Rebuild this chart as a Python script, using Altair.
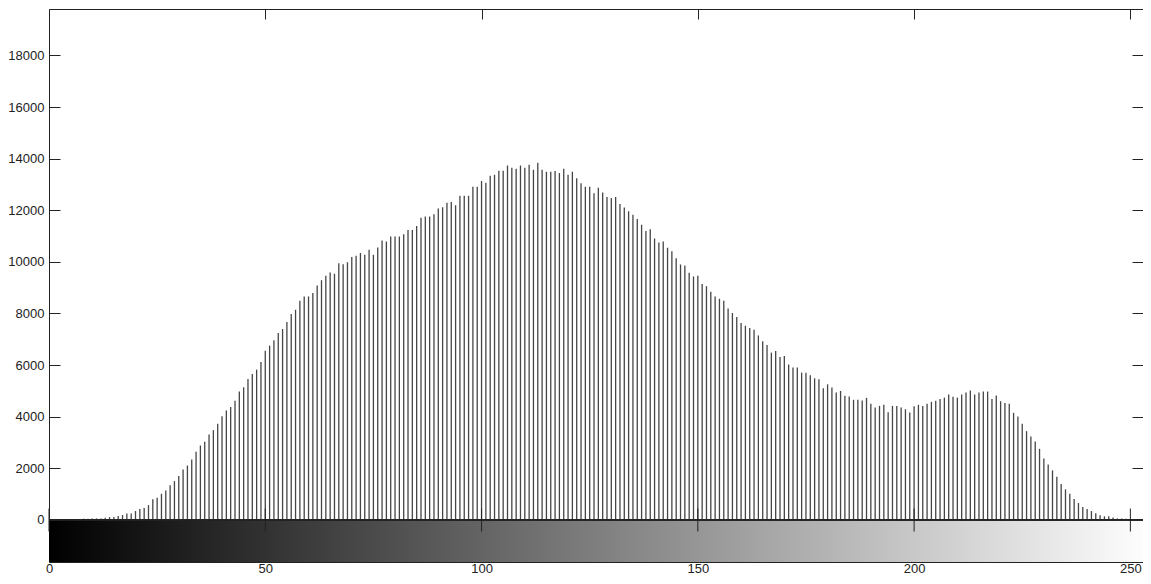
import altair as alt
import pandas as pd

# ---- data (grey-level histogram, 256 bins) ----
levels = list(range(256))
counts = [
    0, 0, 0, 0, 0, 0, 0, 40, 50, 50, 55, 60, 60, 80, 110, 110,
    150, 190, 250, 250, 345, 420, 460, 575, 800, 860, 1015, 1145, 1340, 1505, 1700, 1955,
    2110, 2345, 2640, 2885, 3030, 3310, 3480, 3725, 4020, 4240, 4380, 4615, 4975, 5140, 5465, 5660,
    5825, 6120, 6560, 6755, 6960, 7245, 7400, 7670, 7980, 8145, 8495, 8660, 8660, 8790, 9085, 9290,
    9460, 9590, 9540, 9950, 9910, 9990, 10185, 10235, 10340, 10275, 10470, 10275, 10560, 10830, 10790, 10980,
    10980, 10980, 11075, 11240, 11240, 11395, 11715, 11755, 11755, 11850, 12065, 12120, 12295, 12325, 12195, 12565,
    12565, 12565, 12915, 12915, 13135, 13070, 13340, 13380, 13535, 13535, 13740, 13650, 13610, 13740, 13650, 13765,
    13570, 13845, 13570, 13495, 13495, 13520, 13445, 13610, 13380, 13495, 13240, 13045, 12915, 12915, 12660, 12875,
    12685, 12515, 12480, 12515, 12245, 12105, 11965, 11830, 11665, 11435, 11200, 11265, 10905, 10750, 10790, 10545,
    10415, 10145, 9900, 9860, 9580, 9435, 9460, 9140, 9060, 8840, 8660, 8570, 8495, 8195, 8020, 7865,
    7630, 7525, 7440, 7375, 7150, 6920, 6780, 6485, 6550, 6315, 6355, 6020, 5905, 5905, 5710, 5700,
    5605, 5490, 5450, 5100, 5255, 5130, 4935, 5000, 4810, 4780, 4655, 4655, 4625, 4730, 4500, 4355,
    4420, 4460, 4175, 4420, 4420, 4355, 4290, 4160, 4405, 4460, 4420, 4500, 4575, 4615, 4690, 4740,
    4860, 4770, 4740, 4860, 4935, 5015, 4860, 4935, 4975, 4975, 4690, 4820, 4600, 4535, 4500, 4150,
    4010, 3725, 3440, 3235, 3040, 2755, 2385, 2150, 1920, 1675, 1390, 1185, 1015, 810, 655, 500,
    420, 345, 255, 180, 140, 140, 90, 60, 60, 45, 30, 20, 0, 0, 0, 0,
]
x_ticks = [0, 50, 100, 150, 200, 250]
y_ticks = [0, 2000, 4000, 6000, 8000, 10000, 12000, 14000, 16000, 18000]
colorbar_tick = -815

X_MIN, X_MAX = levels[0], levels[-1]
Y_MIN, Y_MAX = -1630, 19800

hist_df = pd.DataFrame({"level": levels, "count": counts})
bar_df = pd.DataFrame({"x0": [X_MIN], "x1": [X_MAX], "top": [0], "bottom": [Y_MIN]})
tick_df = pd.DataFrame({"t": x_ticks})

# the visible view is 1094 px wide; the axis itself runs 1103 px (its right end lies at the page edge)
xscale = alt.Scale(domain=[X_MIN, X_MAX], range=[0, 1103], nice=False, zero=False)
yscale = alt.Scale(domain=[Y_MIN, Y_MAX], nice=False, zero=False)

FONT = "Liberation Sans"
INK = "#222222"
AX = dict(grid=False, title=None, tickColor=INK, domainColor=INK, labelColor=INK,
          labelFont=FONT, labelFontSize=13, tickWidth=1, domainWidth=1, minExtent=0,
          labelFlush=False)

gray_ramp = alt.Gradient(
    gradient="linear",
    stops=[alt.GradientStop(color="#000000", offset=0),
           alt.GradientStop(color="#ffffff", offset=1)],
    x1=0, x2=1, y1=0, y2=0,
)

stems = alt.Chart(hist_df).mark_rule(color="#454545", strokeWidth=1.3).encode(
    x=alt.X("level:Q", scale=xscale,
            axis=alt.Axis(orient="top", offset=-10, tickSize=10, values=x_ticks,
                          labels=False, domain=False, **AX)),
    y=alt.Y("count:Q", scale=yscale,
            axis=alt.Axis(orient="left", offset=-11, tickSize=11, values=y_ticks,
                          format="d", labelPadding=5, domain=False, **AX)),
    y2=alt.datum(0),
)

cbar = alt.Chart(bar_df).mark_rect(color=gray_ramp, strokeWidth=0).encode(
    x=alt.X("x0:Q", scale=xscale,
            axis=alt.Axis(orient="bottom", offset=-11, tickSize=11, values=x_ticks,
                          format="d", labelPadding=0.5, domain=False, **AX)),
    x2="x1:Q",
    y=alt.Y("top:Q", scale=yscale,
            axis=alt.Axis(orient="right", offset=-11, tickSize=11,
                          values=y_ticks + [colorbar_tick], labels=False, domain=False, **AX)),
    y2="bottom:Q",
)

zero_line = alt.Chart(tick_df).mark_rule(color=INK, strokeWidth=1).encode(
    x=alt.X(datum=X_MIN, type="quantitative", scale=xscale,
            axis=alt.Axis(orient="top", offset=0, ticks=False, labels=False, domain=True, **AX)),
    x2=alt.datum(X_MAX),
    y=alt.Y(datum=0, type="quantitative", scale=yscale,
            axis=alt.Axis(orient="left", offset=0, ticks=False, labels=False, domain=True, **AX)),
)

zero_ticks = alt.Chart(tick_df).mark_tick(orient="vertical", size=23, thickness=1, color=INK, opacity=1).encode(
    x=alt.X("t:Q", scale=xscale,
            axis=alt.Axis(orient="bottom", offset=0, ticks=False, labels=False, domain=True, **AX)),
    y=alt.Y(datum=0, type="quantitative", scale=yscale, axis=None),
)

chart = (
    alt.layer(stems, cbar, zero_line, zero_ticks)
    .resolve_axis(x="independent", y="independent")
    .properties(width=1094, height=553,
                autosize=alt.AutoSizeParams(type="none"),
                padding={"left": 41, "top": 1, "right": 0, "bottom": 14},
                background="white")
    .configure_view(stroke=None)
)

chart.save("out.html", embed_options={"renderer": "svg", "actions": False})
